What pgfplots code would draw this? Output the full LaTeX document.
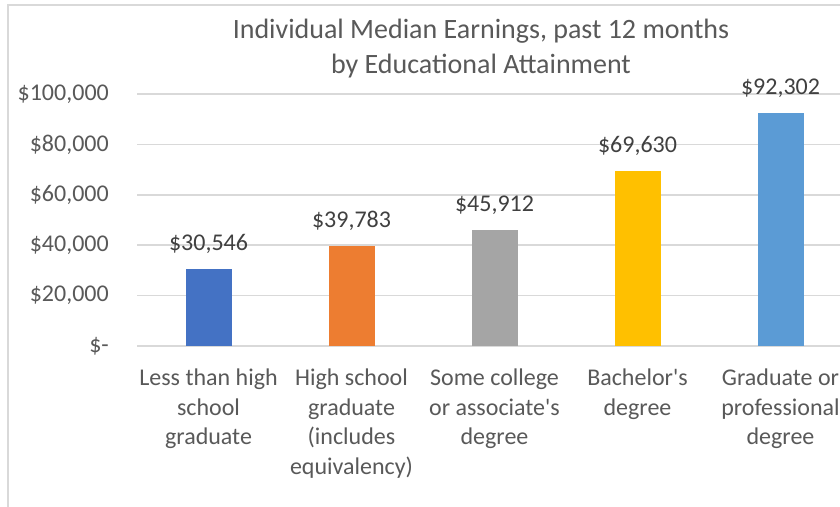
\documentclass[border=0pt]{standalone}
\usepackage{pgfplots}
\pgfplotsset{compat=1.18}
\usepackage{fontspec}
\setmainfont{Carlito}
\definecolor{txt}{HTML}{595959}
\definecolor{lbl}{HTML}{404040}
\definecolor{gridc}{HTML}{D9D9D9}
\definecolor{c1}{HTML}{4472C4}
\definecolor{c2}{HTML}{ED7D31}
\definecolor{c3}{HTML}{A5A5A5}
\definecolor{c4}{HTML}{FFC000}
\definecolor{c5}{HTML}{5B9BD5}
\begin{document}
\begin{tikzpicture}
\useasboundingbox (0pt,0pt) rectangle (840pt,506pt);
\clip (0pt,0pt) rectangle (840pt,506pt);
\fill[white] (0pt,0pt) rectangle (840pt,506pt);
\draw[gridc, line width=1.5pt] (8pt,-5pt) -- (8pt,501pt) -- (850pt,501pt);
\node[txt, align=center, font=\fontsize{28}{35}\selectfont] at (481pt,457.5pt) {Individual Median Earnings, past 12 months\\by Educational Attainment};
\begin{axis}[
  at={(137pt,160pt)}, anchor=south west,
  scale only axis, width=715pt, height=252pt,
  xmin=-0.5, xmax=4.5, ymin=0, ymax=100000,
  scaled y ticks=false,
  ybar, bar width=46pt, bar shift=0pt,
  clip=false,
  axis line style={draw=none},
  major tick length=0pt, tick style={draw=none},
  ymajorgrids, grid style={gridc, line width=1.6pt},
  ytick={0,20000,40000,60000,80000,100000},
  yticklabels={{\$-\hspace{10pt}},{\$20,000},{\$40,000},{\$60,000},{\$80,000},{\$100,000}},
  yticklabel style={anchor=east, inner sep=0pt, xshift=-28pt, color=txt, font=\fontsize{24}{29.5}\selectfont},
  xtick={0,1,2,3,4},
  xticklabels={{Less than high\\school\\graduate},{High school\\graduate\\(includes\\equivalency)},{Some college\\or associate\textquotesingle s\\degree},{Bachelor\textquotesingle s\\degree},{Graduate or\\professional\\degree}},
  xticklabel style={anchor=north, align=center, inner sep=0pt, yshift=-23pt, color=txt, font=\fontsize{24}{29.5}\selectfont},
  nodes near coords style={anchor=center, yshift=25pt, color=lbl, font=\fontsize{24}{29.5}\selectfont},
]
\addplot[fill=c1, draw=none, nodes near coords={\$30,546}] coordinates {(0,30546)};
\addplot[fill=c2, draw=none, nodes near coords={\$39,783}] coordinates {(1,39783)};
\addplot[fill=c3, draw=none, nodes near coords={\$45,912}] coordinates {(2,45912)};
\addplot[fill=c4, draw=none, nodes near coords={\$69,630}] coordinates {(3,69630)};
\addplot[fill=c5, draw=none, nodes near coords={\$92,302}] coordinates {(4,92302)};
\end{axis}
\end{tikzpicture}
\end{document}
